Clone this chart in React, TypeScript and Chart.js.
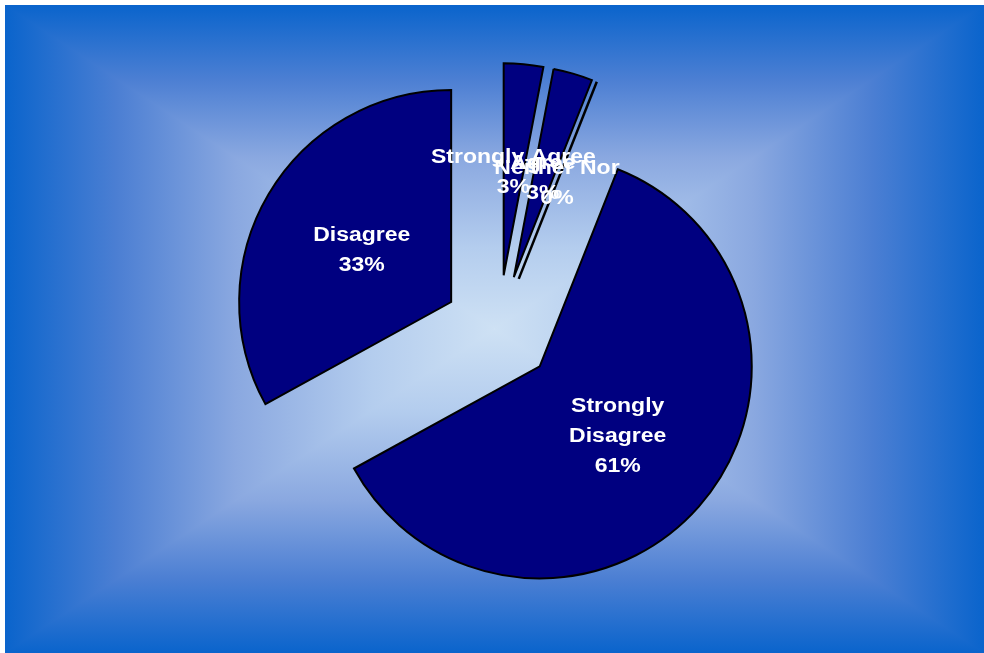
import React, { useEffect, useRef } from "react";
import { Chart, registerables } from "chart.js";

Chart.register(...registerables);

// ---- data ----
const categories: string[] = ["Strongly Agree", "Agree", "Neither Nor", "Strongly Disagree", "Disagree"];
const labelLines: string[][] = [["Strongly Agree"], ["Agree"], ["Neither Nor"], ["Strongly", "Disagree"], ["Disagree"]];
const values: number[] = [3, 3, 0, 61, 33];

// ---- style ----
const SLICE_COLOR = "#000080";
const BORDER_COLOR = "#000000";
const EXPLODE_PX = 55;
const GRADIENT_STOPS: [number, string][] = [
  [0, "rgb(10,100,204)"],
  [0.23, "rgb(76,127,211)"],
  [0.47, "rgb(138,168,224)"],
  [0.75, "rgb(180,205,238)"],
  [1, "rgb(206,225,244)"],
];
const FRAME_MARGIN = 5;

const bgPlugin = {
  id: "rectGradientBg",
  beforeDraw(chart: any) {
    const ctx = chart.ctx as CanvasRenderingContext2D;
    const W = chart.width, H = chart.height;
    ctx.save();
    ctx.fillStyle = "#ffffff";
    ctx.fillRect(0, 0, W, H);
    const x0 = FRAME_MARGIN, y0 = FRAME_MARGIN, x1 = W, y1 = H;
    const cx = (x0 + x1) / 2, cy = (y0 + y1) / 2;
    const mk = (a: number, b: number, c: number, d: number) => {
      const g = ctx.createLinearGradient(a, b, c, d);
      GRADIENT_STOPS.forEach(([t, col]) => g.addColorStop(t, col));
      return g;
    };
    ctx.fillStyle = mk(x0, 0, cx, 0);
    ctx.fillRect(x0, y0, cx - x0, y1 - y0);
    ctx.fillStyle = mk(x1, 0, cx, 0);
    ctx.fillRect(cx, y0, x1 - cx, y1 - y0);
    const tri = (p: number[][], g: CanvasGradient) => {
      ctx.fillStyle = g;
      ctx.beginPath();
      ctx.moveTo(p[0][0], p[0][1]);
      ctx.lineTo(p[1][0], p[1][1]);
      ctx.lineTo(p[2][0], p[2][1]);
      ctx.closePath();
      ctx.fill();
    };
    tri([[x0, y0], [x1, y0], [cx, cy]], mk(0, y0, 0, cy));
    tri([[x0, y1], [x1, y1], [cx, cy]], mk(0, y1, 0, cy));
    ctx.restore();
  },
};

// explode every slice by moving its centre outward along its mid angle
const explodePlugin = {
  id: "explode",
  afterDatasetsUpdate(chart: any) {
    const meta = chart.getDatasetMeta(0);
    meta.data.forEach((el: any) => {
      const mid = (el.startAngle + el.endAngle) / 2;
      el.x += Math.cos(mid) * EXPLODE_PX;
      el.y += Math.sin(mid) * EXPLODE_PX;
    });
  },
};

const labelPlugin = {
  id: "sliceLabels",
  afterDatasetsDraw(chart: any) {
    const ctx = chart.ctx as CanvasRenderingContext2D;
    const meta = chart.getDatasetMeta(0);
    const total = values.reduce((a, b) => a + b, 0);
    ctx.save();
    // zero-value slices drawn as a radial line
    meta.data.forEach((el: any) => {
      if (el.circumference !== 0) return;
      const a = el.startAngle;
      const r = el.outerRadius;
      ctx.strokeStyle = BORDER_COLOR;
      ctx.lineWidth = 2.5;
      ctx.beginPath();
      ctx.moveTo(el.x, el.y);
      ctx.lineTo(el.x + Math.cos(a) * r, el.y + Math.sin(a) * r);
      ctx.stroke();
    });
    ctx.fillStyle = "#ffffff";
    ctx.font = "bold 20px 'Liberation Sans', Arial, sans-serif";
    ctx.textAlign = "center";
    ctx.textBaseline = "middle";
    meta.data.forEach((el: any, i: number) => {
      const mid = (el.startAngle + el.endAngle) / 2;
      const d = el.outerRadius * 0.49;
      const lx = el.x + Math.cos(mid) * d, ly = el.y + Math.sin(mid) * d;
      const pct = Math.round((values[i] / total) * 100) + "%";
      const lines = [...labelLines[i], pct];
      const lh = 30;
      lines.forEach((t, k) => {
        const y = ly + (k - (lines.length - 1) / 2) * lh + 1;
        ctx.save();
        ctx.translate(lx, y);
        ctx.scale(1.15, 1);
        ctx.fillText(t, 0, 0);
        ctx.restore();
      });
    });
    ctx.restore();
  },
};

export default function App() {
  const ref = useRef<HTMLCanvasElement | null>(null);
  useEffect(() => {
    if (!ref.current) return;
    const chart = new Chart(ref.current, {
      type: "pie",
      data: {
        labels: categories,
        datasets: [
          {
            data: values,
            backgroundColor: SLICE_COLOR,
            borderColor: BORDER_COLOR,
            borderWidth: 2,
            borderJoinStyle: "miter",
          } as any,
        ],
      },
      options: {
        animation: false,
        responsive: true,
        maintainAspectRatio: false,
        radius: 212,
        layout: { padding: { left: 13, top: 7, right: 0, bottom: 0 } },
        plugins: { legend: { display: false }, tooltip: { enabled: false } },
      } as any,
      plugins: [bgPlugin, explodePlugin, labelPlugin],
    });
    return () => chart.destroy();
  }, []);
  return (
    <div style={{ position: "absolute", left: 0, top: 0, width: 984, height: 653 }}>
      <canvas ref={ref} />
    </div>
  );
}
